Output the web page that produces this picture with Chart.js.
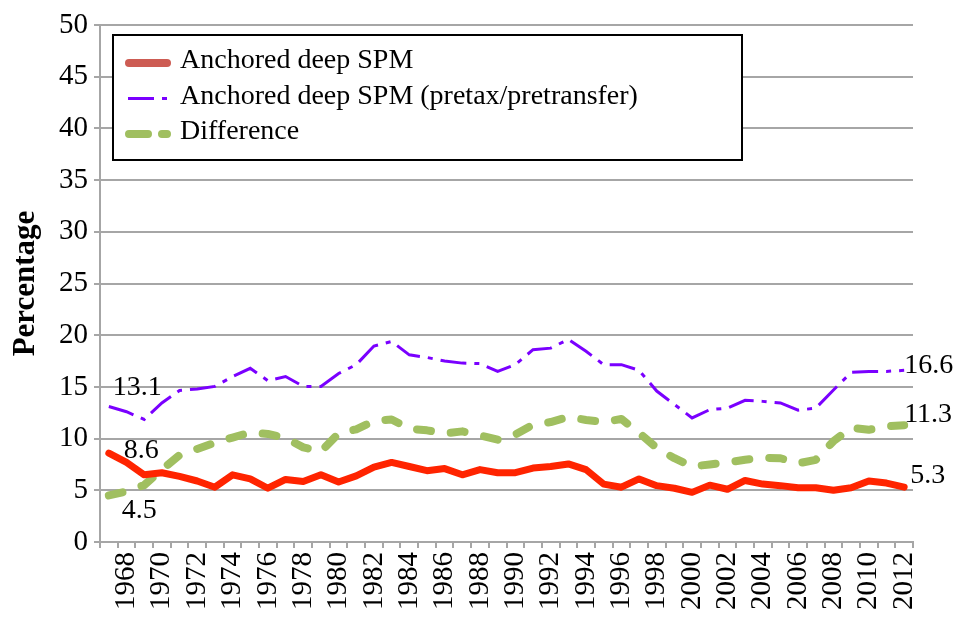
<!DOCTYPE html>
<html>
<head>
<meta charset="utf-8">
<script src="https://cdn.jsdelivr.net/npm/chart.js@4.4.1/dist/chart.umd.min.js"></script>
<style>
  html, body { margin: 0; padding: 0; background: #fff; }
  #wrap { width: 965px; height: 628px; position: relative; }
</style>
</head>
<body>
<div id="wrap"><canvas id="chart"></canvas></div>
<script>
// categories (1967 has a point but no printed label)
const years = [1967, 1968, 1969, 1970, 1971, 1972, 1973, 1974, 1975, 1976,
  1977, 1978, 1979, 1980, 1981, 1982, 1983, 1984, 1985, 1986,
  1987, 1988, 1989, 1990, 1991, 1992, 1993, 1994, 1995, 1996,
  1997, 1998, 1999, 2000, 2001, 2002, 2003, 2004, 2005, 2006,
  2007, 2008, 2009, 2010, 2011, 2012];

const anchoredSPM = [8.6, 7.7, 6.5, 6.7, 6.35, 5.9, 5.3, 6.5, 6.1, 5.2,
  6.05, 5.85, 6.5, 5.8, 6.4, 7.25, 7.7, 7.3, 6.9, 7.1,
  6.5, 7.0, 6.7, 6.7, 7.15, 7.3, 7.55, 7.0, 5.6, 5.3,
  6.1, 5.45, 5.2, 4.8, 5.5, 5.1, 5.95, 5.6, 5.45, 5.25,
  5.25, 5.0, 5.25, 5.9, 5.7, 5.3];

const anchoredPretax = [13.1, 12.6, 11.85, 13.45, 14.65, 14.8, 15.05, 16.0, 16.8, 15.6,
  16.0, 15.05, 15.05, 16.3, 17.15, 18.95, 19.4, 18.1, 17.85, 17.5,
  17.3, 17.25, 16.5, 17.15, 18.6, 18.75, 19.6, 18.45, 17.15, 17.15,
  16.6, 14.6, 13.3, 12.0, 12.8, 12.95, 13.7, 13.6, 13.45, 12.75,
  12.95, 14.7, 16.4, 16.5, 16.5, 16.6];

const difference = [4.5, 4.9, 5.5, 7.0, 8.4, 9.0, 9.6, 10.1, 10.6, 10.45,
  10.05, 9.15, 8.75, 10.5, 10.9, 11.7, 11.85, 10.95, 10.8, 10.5,
  10.7, 10.3, 9.9, 10.4, 11.35, 11.6, 12.1, 11.8, 11.6, 11.9,
  10.55, 9.1, 8.1, 7.3, 7.5, 7.7, 7.95, 8.15, 8.1, 7.6,
  7.95, 9.75, 11.05, 10.85, 11.2, 11.3];

const seriesNames = ['Anchored deep SPM', 'Anchored deep SPM (pretax/pretransfer)', 'Difference'];
const yTicks = [0, 5, 10, 15, 20, 25, 30, 35, 40, 45, 50];

// value labels: [dataset, point index, dx, dy]
const valueLabels = [
  [1, 0, 4, -19], [0, 0, 15, -2], [2, 0, 13, 15],
  [1, 45, 0, -5], [2, 45, 0, -11], [0, 45, 6, -12]
];

const FONT = "'Liberation Serif', 'Times New Roman', serif";
const GRID = '#A6A6A6';
Chart.defaults.font.family = FONT;
Chart.defaults.color = '#000';

// legend sample styles (legend sample colours differ from the plot lines)
const legendSamples = [
  { color: '#CD5C53', width: 8, dash: [], cap: 'round' },
  { color: '#7A00FF', width: 3, dash: [26, 8, 5, 8], cap: 'butt' },
  { color: '#A0BF60', width: 8, dash: [19, 14, 5, 14], cap: 'round' }
];

const valueLabelPlugin = {
  id: 'valueLabels',
  afterDatasetsDraw(chart) {
    const ctx = chart.ctx;
    ctx.save();
    ctx.font = '28px ' + FONT;
    ctx.fillStyle = '#000';
    ctx.textAlign = 'left';
    ctx.textBaseline = 'middle';
    valueLabels.forEach(([d, i, dx, dy]) => {
      const pt = chart.getDatasetMeta(d).data[i];
      const v = chart.data.datasets[d].data[i];
      ctx.fillText(v.toFixed(1), pt.x + dx, pt.y + dy);
    });
    ctx.restore();
  }
};

const boxLegend = {
  id: 'boxLegend',
  afterDraw(chart) {
    const ctx = chart.ctx;
    const area = chart.chartArea;
    const x0 = area.left + 13, y0 = area.top + 10, w = 629, h = 125;
    ctx.save();
    ctx.fillStyle = '#fff';
    ctx.fillRect(x0, y0, w, h);
    ctx.strokeStyle = '#000';
    ctx.lineWidth = 2;
    ctx.strokeRect(x0, y0, w, h);
    ctx.font = '28px ' + FONT;
    ctx.textBaseline = 'middle';
    chart.data.datasets.forEach((ds, i) => {
      const s = legendSamples[i];
      const rowY = y0 + 26 + i * 35.5;
      ctx.beginPath();
      ctx.strokeStyle = s.color;
      ctx.lineWidth = s.width;
      ctx.lineCap = s.cap;
      ctx.setLineDash(s.dash);
      const xs = s.cap === 'round' ? x0 + 16 : x0 + 15;
      const xe = s.cap === 'round' ? x0 + 54 : x0 + 57;
      ctx.moveTo(xs, rowY + 2);
      ctx.lineTo(xe, rowY + 2);
      ctx.stroke();
      ctx.setLineDash([]);
      ctx.fillStyle = '#000';
      ctx.fillText(ds.label, x0 + 67, rowY);
    });
    ctx.restore();
  }
};

new Chart(document.getElementById('chart'), {
  type: 'line',
  data: {
    labels: years,
    datasets: [
      {
        label: seriesNames[0],
        data: anchoredSPM,
        borderColor: '#FF2400',
        borderWidth: 7,
        borderJoinStyle: 'round',
        borderCapStyle: 'round',
        pointRadius: 0,
        tension: 0
      },
      {
        label: seriesNames[1],
        data: anchoredPretax,
        borderColor: '#7A00FF',
        borderWidth: 3,
        borderDash: [26, 8, 5, 8],
        pointRadius: 0,
        tension: 0
      },
      {
        label: seriesNames[2],
        data: difference,
        borderColor: '#A0BF60',
        borderWidth: 8,
        borderDash: [14, 20],
        borderCapStyle: 'round',
        borderJoinStyle: 'round',
        pointRadius: 0,
        tension: 0
      }
    ]
  },
  options: {
    responsive: true,
    maintainAspectRatio: false,
    animation: false,
    layout: { padding: { top: 25, right: 52, left: 0, bottom: 0 } },
    plugins: {
      legend: { display: false },
      tooltip: { enabled: false }
    },
    scales: {
      x: {
        offset: true,
        grid: {
          offset: true,
          drawOnChartArea: false,
          drawTicks: true,
          tickLength: 6,
          color: GRID,
          lineWidth: 2
        },
        border: { color: GRID, width: 2 },
        ticks: {
          autoSkip: false,
          minRotation: 90,
          maxRotation: 90,
          padding: 4,
          font: { family: FONT, size: 29 },
          color: '#000',
          callback: function (value, index) {
            const y = years[index];
            return y % 2 === 0 ? String(y) : '';
          }
        },
        afterFit: (scale) => { scale.height = 86; }
      },
      y: {
        min: yTicks[0],
        max: yTicks[yTicks.length - 1],
        grid: {
          color: GRID,
          lineWidth: 2,
          drawTicks: true,
          tickLength: 6
        },
        border: { color: GRID, width: 2 },
        ticks: {
          stepSize: 5,
          padding: 6,
          font: { family: FONT, size: 29 },
          color: '#000'
        },
        title: {
          display: true,
          text: 'Percentage',
          font: { family: FONT, size: 31, weight: 'bold' },
          color: '#000',
          padding: { top: 7, bottom: 0 }
        },
        afterFit: (scale) => { scale.width = 100; }
      }
    }
  },
  plugins: [valueLabelPlugin, boxLegend]
});
</script>
</body>
</html>
